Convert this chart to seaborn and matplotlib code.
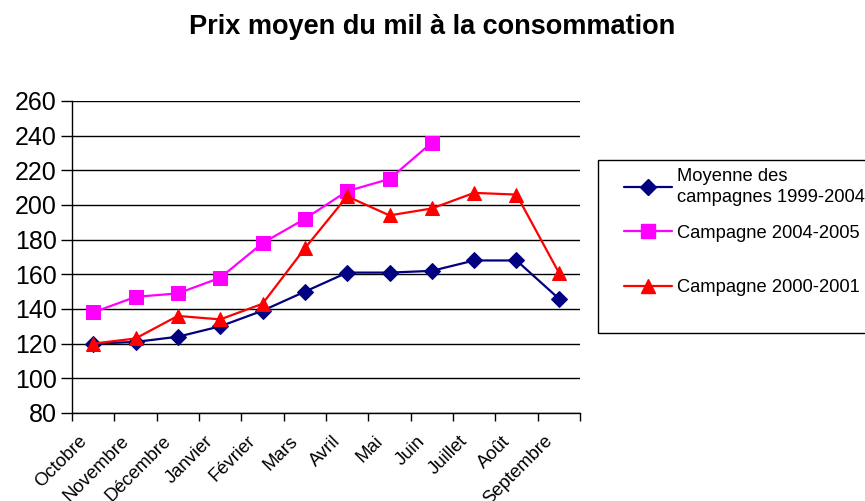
import matplotlib
matplotlib.use("Agg")
import matplotlib.pyplot as plt
from matplotlib.patches import Rectangle
import seaborn as sns
import pandas as pd
import numpy as np
from matplotlib.lines import Line2D

mois = ["Octobre", "Novembre", "Décembre", "Janvier", "Février", "Mars",
        "Avril", "Mai", "Juin", "Juillet", "Août", "Septembre"]
moyenne_1999_2004 = [120, 121, 124, 130, 139, 150, 161, 161, 162, 168, 168, 146]
campagne_2004_2005 = [138, 147, 149, 158, 178, 192, 208, 215, 236, np.nan, np.nan, np.nan]
campagne_2000_2001 = [120, 123, 136, 134, 143, 175, 205, 194, 198, 207, 206, 161]
y_ticks = [80, 100, 120, 140, 160, 180, 200, 220, 240, 260]

lab_moy = "Moyenne des\ncampagnes 1999-2004"
lab_0405 = "Campagne 2004-2005"
lab_0001 = "Campagne 2000-2001"

sns.set_theme(style="white")
plt.rcParams["font.family"] = ["Liberation Sans", "DejaVu Sans"]
plt.rcParams["text.color"] = "black"
plt.rcParams["xtick.color"] = "black"
plt.rcParams["ytick.color"] = "black"
plt.rcParams["axes.labelcolor"] = "black"

fig = plt.figure(figsize=(8.65, 5.01), dpi=100)
ax = fig.add_axes([72/865, 1-413/501, (580-72)/865, (413-101)/501])

series = [
    (lab_moy, moyenne_1999_2004, "#000080", "D", 8),
    (lab_0405, campagne_2004_2005, "#FF00FF", "s", 9.5),
    (lab_0001, campagne_2000_2001, "#FF0000", "^", 10),
]
ax.set_ylim(80, 260)
ax.set_yticks(y_ticks)
ax.yaxis.grid(True, color="black", linewidth=1.0)
ax.set_axisbelow(True)

handles = []
for lab, vals, col, mk, ms in series:
    df = pd.DataFrame({"mois": mois, "prix": vals})
    sns.lineplot(data=df, x="mois", y="prix", ax=ax, color=col, marker=mk,
                 markersize=ms, markeredgecolor=col, linewidth=1.6, sort=False)
    handles.append(Line2D([], [], color=col, marker=mk, markersize=ms,
                          markeredgecolor=col, linewidth=1.6, label=lab))

ax.set_xlim(-0.5, 11.5)
# labels sit a little left of each category centre, as in the reference
ax.set_xticks(np.arange(len(mois)) - 0.36)
ax.set_xticklabels(mois, rotation=45, ha="right", rotation_mode="anchor",
                   fontsize=13.3)
ax.set_xticks(np.arange(-0.5, 12, 1), minor=True)
ax.tick_params(axis="x", which="major", length=0, pad=14)
ax.tick_params(axis="x", which="minor", length=6, width=1, color="black",
               direction="out", bottom=True)
ax.tick_params(axis="y", which="major", length=8, width=1, color="black",
               direction="out", left=True, labelsize=18, pad=3)
ax.set_xlabel("")
ax.set_ylabel("")
for s in ["top", "right"]:
    ax.spines[s].set_visible(False)
for s in ["left", "bottom"]:
    ax.spines[s].set_color("black")
    ax.spines[s].set_linewidth(1.0)

fig.text(0.5, 1-27/501, "Prix moyen du mil à la consommation",
         ha="center", va="center", fontsize=19.5, fontweight="bold")

# legend frame
fig.patches.append(Rectangle((598/865, 1-333/501), 280/865, 173/501,
                             transform=fig.transFigure, fill=False,
                             edgecolor="black", linewidth=1.0))
# legend entries, placed at the reference's vertical positions
for h, yc in zip(handles, [187, 233, 288]):
    leg = fig.legend(handles=[h], loc="center left",
                     bbox_to_anchor=(624/865, 1-yc/501), frameon=False,
                     fontsize=13.2, handlelength=2.6, handletextpad=0.28,
                     borderpad=0, borderaxespad=0)
    for t in leg.get_texts():
        t.set_linespacing(1.35)

fig.savefig("out.png", dpi=100)
